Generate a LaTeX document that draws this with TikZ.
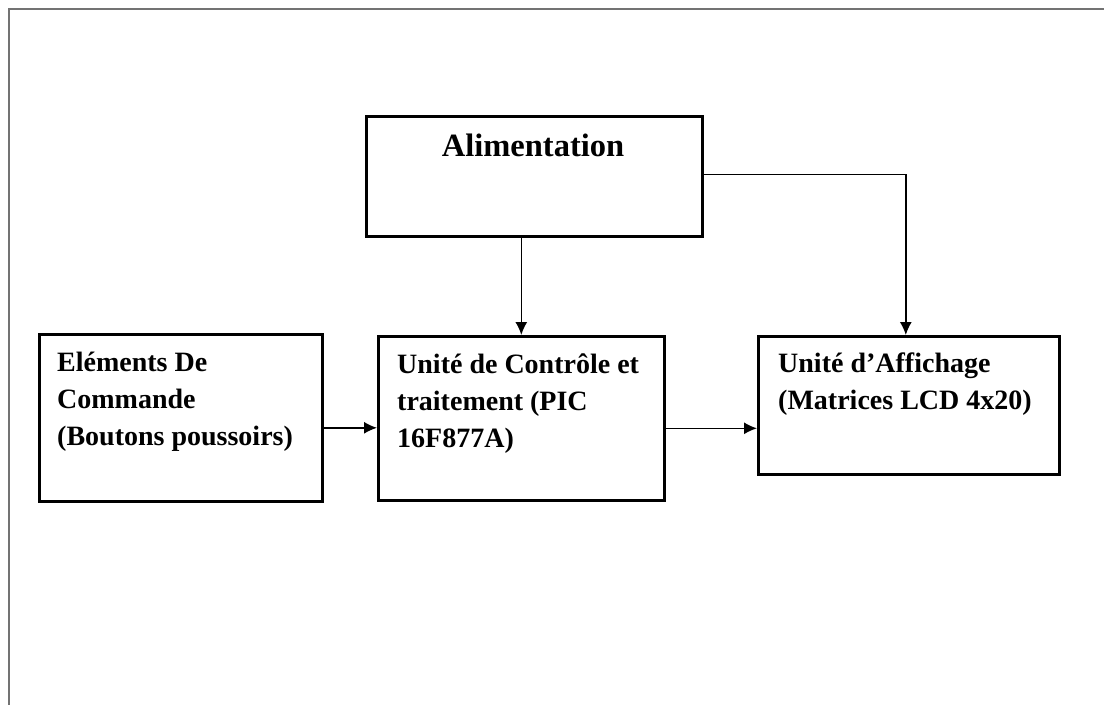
\documentclass[tikz,border=0pt]{standalone}
\usepackage{fontspec}
\setmainfont{Liberation Serif}
\usetikzlibrary{arrows.meta}
\tikzset{
  blockbox/.style={draw=black, line width=2.6bp, rectangle, inner sep=0pt, anchor=north west},
  lbl/.style={font=\fontsize{28bp}{37bp}\selectfont\bfseries, anchor=base west, inner sep=0pt, align=left},
  arr/.style={line width=1.4bp, -{Latex[length=13bp,width=12bp]}},
  frame/.style={line width=2.2bp, draw=black!55}
}
\begin{document}
\begin{tikzpicture}[x=1bp,y=-1bp]
\useasboundingbox (0,0) rectangle (1104,705);
\draw[frame] (9,706) -- (9,9) -- (1105,9);
% boxes
\node[blockbox, minimum width=336bp, minimum height=120bp] (alim) at (365,115) {};
\node[blockbox, minimum width=283bp, minimum height=167bp] (cmd) at (38,333) {};
\node[blockbox, minimum width=286bp, minimum height=164bp] (ctrl) at (377,335) {};
\node[blockbox, minimum width=301bp, minimum height=138bp] (disp) at (757,335) {};
% labels (anchored at the baseline of their last line)
\node[lbl, anchor=base, font=\fontsize{32.5bp}{37bp}\selectfont\bfseries] (talim) at (533,157) {Alimentation};
\node[lbl] (tcmd) at (57,445) {El\'ements De\\Commande\\(Boutons poussoirs)};
\node[lbl] (tctrl) at (397,447) {Unit\'e de Contr\^ole et\\traitement (PIC\\16F877A)};
\node[lbl] (tdisp) at (778,409) {Unit\'e d’Affichage\\(Matrices LCD 4x20)};
% connectors
\draw[arr] (ctrl.north |- alim.south) -- (ctrl.north);
\coordinate (dispin) at ([xshift=-3bp]disp.north);
\draw[arr] ([yshift=2bp]alim.east) -| (dispin);
\draw[arr] ([yshift=-10bp]cmd.east) -- ([yshift=-10bp]cmd.east -| ctrl.west);
\draw[arr] ([yshift=-10bp]ctrl.east) -- ([yshift=-10bp]ctrl.east -| disp.west);
\end{tikzpicture}
\end{document}
